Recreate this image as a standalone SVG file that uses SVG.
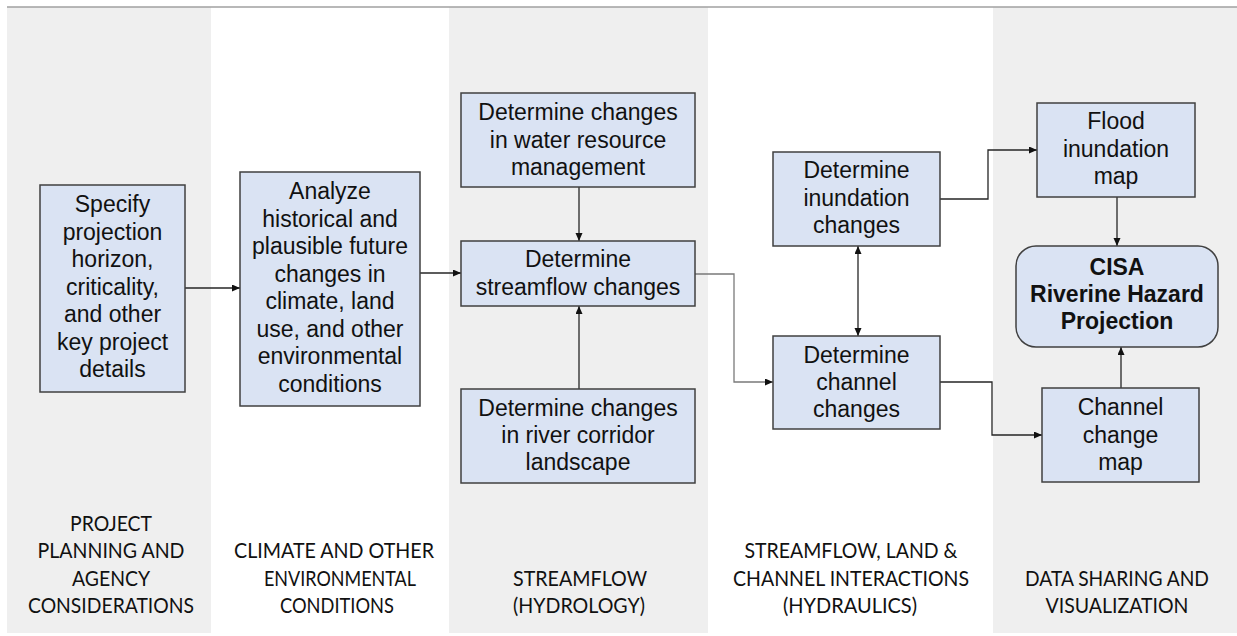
<svg xmlns="http://www.w3.org/2000/svg" width="1237" height="636" viewBox="0 0 1237 636">
<style>
.band{fill:#efefef}
.box{fill:#dae3f3;stroke:#404040;stroke-width:1.5}
.bt{font-family:"Liberation Sans",Arial,sans-serif;font-size:23px;text-anchor:middle;fill:#111}
.bold{font-weight:bold}
.lab{font-family:Lato,"Open Sans",sans-serif;font-size:21px;text-anchor:middle;fill:#111}
.c{fill:none;stroke:#262626;stroke-width:1.3;marker-end:url(#ah)}
.g{stroke:#7a7a7a;stroke-width:1.3}
</style>
<defs>
<marker id="ah" markerUnits="userSpaceOnUse" markerWidth="9" markerHeight="8" refX="8" refY="3.5" orient="auto-start-reverse" viewBox="0 0 9 8">
<path d="M0,0 L8,3.5 L0,7 z" fill="#111"/>
</marker>
</defs>
<rect width="1237" height="636" fill="#fff"/>
<g id="bands">
<rect class="band" x="7" y="7" width="204" height="626"/>
<rect class="band" x="449" y="7" width="259" height="626"/>
<rect class="band" x="993" y="7" width="244" height="626"/>
<line x1="7" y1="7" x2="1237" y2="7" stroke="#a0a0a0" stroke-width="1.5"/>
</g>
<g id="labels">
<text class="lab" x="111" y="531" textLength="82" lengthAdjust="spacingAndGlyphs">PROJECT</text>
<text class="lab" x="111" y="558" textLength="147" lengthAdjust="spacingAndGlyphs">PLANNING AND</text>
<text class="lab" x="111" y="586" textLength="78" lengthAdjust="spacingAndGlyphs">AGENCY</text>
<text class="lab" x="111" y="613" textLength="166" lengthAdjust="spacingAndGlyphs">CONSIDERATIONS</text>
<text class="lab" x="334" y="558" textLength="200" lengthAdjust="spacingAndGlyphs">CLIMATE AND OTHER</text>
<text class="lab" x="340" y="586" textLength="152" lengthAdjust="spacingAndGlyphs">ENVIRONMENTAL</text>
<text class="lab" x="337" y="613" textLength="114" lengthAdjust="spacingAndGlyphs">CONDITIONS</text>
<text class="lab" x="580" y="586" textLength="134" lengthAdjust="spacingAndGlyphs">STREAMFLOW</text>
<text class="lab" x="579" y="613" textLength="132" lengthAdjust="spacingAndGlyphs">(HYDROLOGY)</text>
<text class="lab" x="851" y="558" textLength="213" lengthAdjust="spacingAndGlyphs">STREAMFLOW, LAND &amp;</text>
<text class="lab" x="851" y="586" textLength="236" lengthAdjust="spacingAndGlyphs">CHANNEL INTERACTIONS</text>
<text class="lab" x="850" y="613" textLength="134" lengthAdjust="spacingAndGlyphs">(HYDRAULICS)</text>
<text class="lab" x="1117" y="586" textLength="184" lengthAdjust="spacingAndGlyphs">DATA SHARING AND</text>
<text class="lab" x="1117" y="613" textLength="143" lengthAdjust="spacingAndGlyphs">VISUALIZATION</text>
</g>
<g id="connectors">
<path class="c" d="M185,288 H240"/>
<path class="c" d="M420,273 H461"/>
<path class="c" d="M579,187 V241"/>
<path class="c" d="M579,389 V306"/>
<path class="c g" d="M695,274 H734 V382 H773"/>
<path class="c" d="M858,246 V336" style="marker-start:url(#ah)"/>
<path class="c" d="M940,199 H988 V150 H1037"/>
<path class="c" d="M1117,197 V246"/>
<path class="c" d="M1121,388 V347"/>
<path class="c" d="M940,382 H992 V435 H1042"/>
</g>
<g id="specify">
<rect class="box" x="40" y="185" width="145" height="207"/>
<text class="bt" x="112.5" y="212">Specify</text>
<text class="bt" x="112.5" y="240">projection</text>
<text class="bt" x="112.5" y="267">horizon,</text>
<text class="bt" x="112.5" y="295">criticality,</text>
<text class="bt" x="112.5" y="322">and other</text>
<text class="bt" x="112.5" y="350">key project</text>
<text class="bt" x="112.5" y="377">details</text>
</g>
<g id="analyze">
<rect class="box" x="240" y="172" width="180" height="234"/>
<text class="bt" x="330" y="199">Analyze</text>
<text class="bt" x="330" y="227">historical and</text>
<text class="bt" x="330" y="254">plausible future</text>
<text class="bt" x="330" y="282">changes in</text>
<text class="bt" x="330" y="309">climate, land</text>
<text class="bt" x="330" y="337">use, and other</text>
<text class="bt" x="330" y="364">environmental</text>
<text class="bt" x="330" y="392">conditions</text>
</g>
<g id="water">
<rect class="box" x="461" y="93" width="234" height="94"/>
<text class="bt" x="578" y="120">Determine changes</text>
<text class="bt" x="578" y="148">in water resource</text>
<text class="bt" x="578" y="175">management</text>
</g>
<g id="streamflow">
<rect class="box" x="461" y="241" width="234" height="65"/>
<text class="bt" x="578" y="267">Determine</text>
<text class="bt" x="578" y="295">streamflow changes</text>
</g>
<g id="corridor">
<rect class="box" x="461" y="389" width="234" height="94"/>
<text class="bt" x="578" y="416">Determine changes</text>
<text class="bt" x="578" y="443">in river corridor</text>
<text class="bt" x="578" y="470">landscape</text>
</g>
<g id="inundation">
<rect class="box" x="773" y="152" width="167" height="94"/>
<text class="bt" x="856.5" y="178">Determine</text>
<text class="bt" x="856.5" y="206">inundation</text>
<text class="bt" x="856.5" y="233">changes</text>
</g>
<g id="channel">
<rect class="box" x="773" y="336" width="167" height="93"/>
<text class="bt" x="856.5" y="363">Determine</text>
<text class="bt" x="856.5" y="390">channel</text>
<text class="bt" x="856.5" y="417">changes</text>
</g>
<g id="flood">
<rect class="box" x="1037" y="103" width="158" height="94"/>
<text class="bt" x="1116" y="129">Flood</text>
<text class="bt" x="1116" y="157">inundation</text>
<text class="bt" x="1116" y="184">map</text>
</g>
<g id="cisa">
<rect class="box" x="1016" y="246" width="202" height="101" rx="20" ry="20"/>
<text class="bt bold" x="1117" y="275">CISA</text>
<text class="bt bold" x="1117" y="302">Riverine Hazard</text>
<text class="bt bold" x="1117" y="329">Projection</text>
</g>
<g id="channelmap">
<rect class="box" x="1042" y="388" width="157" height="94"/>
<text class="bt" x="1120.5" y="415">Channel</text>
<text class="bt" x="1120.5" y="443">change</text>
<text class="bt" x="1120.5" y="470">map</text>
</g>
</svg>
